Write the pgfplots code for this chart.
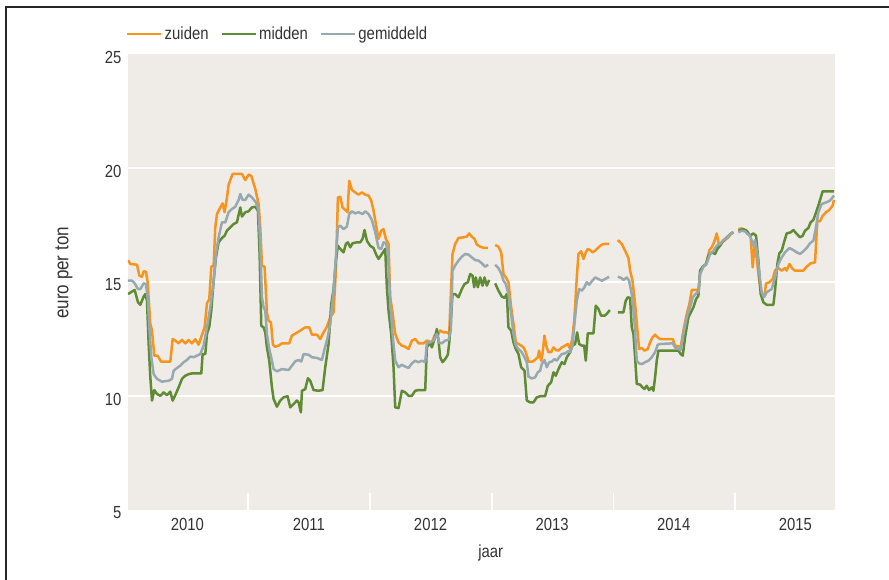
\documentclass[border=0pt]{standalone}
\usepackage{fontspec}
\setmainfont{Liberation Sans}[FakeStretch=0.85]
\usepackage{pgfplots}
\pgfplotsset{compat=1.18}
\definecolor{zuid}{HTML}{F7941E}
\definecolor{midd}{HTML}{5E8B34}
\definecolor{gemi}{HTML}{96A8B0}
\definecolor{bgc}{HTML}{EFECE8}
\definecolor{txt}{HTML}{333333}
\begin{document}
\begin{tikzpicture}[font=\fontsize{17.5pt}{20pt}\selectfont, text=txt]
\useasboundingbox (-128pt,-69pt) rectangle (761pt,510pt);
\begin{axis}[
  scale only axis, width=707pt, height=456pt,
  xmin=4, xmax=2126, ymin=5, ymax=25,
  axis line style={draw=none},
  axis background/.style={fill=bgc},
  /pgf/number format/assume math mode=true,
  xtick pos=lower, ytick pos=left,
  ytick={5,10,15,20,25},
  yticklabel style={text=txt, xshift=-3pt, yshift=-3pt},
  xtick={182,547,912,1277,1642,2007},
  xticklabels={2010,2011,2012,2013,2014,2015},
  xticklabel style={text=txt, yshift=-5pt},
  major tick length=0pt,
  extra y ticks={10,15,20}, extra y tick labels={},
  extra y tick style={ymajorgrids=true, major grid style={white, line width=2pt}, major tick length=0pt},
  extra x ticks={365,730,1096,1461,1826}, extra x tick labels={},
  extra x tick style={xtick align=inside, xtick pos=lower, major tick length=17pt, major tick style={white, line width=1.6pt}},
  xlabel={jaar}, ylabel={euro per ton},
  xlabel style={at={(axis description cs:0.513,-0.094)}, anchor=center, text=txt},
  ylabel style={at={(axis description cs:-0.0905,0.52)}, anchor=center, rotate=0, text=txt, font=\fontsize{20pt}{22pt}\selectfont},
  unbounded coords=jump,
  legend columns=3,
  legend style={at={(0,1)}, anchor=west, yshift=20pt, xshift=-2pt, draw=none, fill=none, inner sep=0pt,
    text=txt, /tikz/every even column/.append style={column sep=10pt}},
  legend image code/.code={\draw[#1, line width=2.6pt] (0pt,0pt) -- (31pt,0pt); \path (0pt,0pt) -- (34pt,0pt);},
  every axis plot/.append style={line width=2.5pt, line join=round},
]
\addplot[zuid] coordinates {
(4,15.96) (11,15.79) (31,15.76) (38,15.28) (46,15.23) (51,15.47) (58,15.45) (63,14.99) (71,13.16) (76,12.87) (83,11.77) (93,11.77) (103,11.51) (131,11.51) (138,12.50) (146,12.43) (156,12.31) (166,12.46) (176,12.31) (186,12.46) (196,12.31) (206,12.49) (216,12.25) (224,12.60) (234,13.01) (241,14.06) (248,14.25) (254,15.67) (261,15.72) (266,17.40) (271,17.98) (281,18.27) (288,18.45) (294,18.06) (301,18.71) (306,19.27) (318,19.74) (346,19.74) (356,19.47) (366,19.71) (374,19.66) (386,19.08) (396,18.42) (401,17.40) (406,15.72) (414,15.67) (421,13.67) (426,13.30) (433,13.23) (439,12.25) (446,12.16) (456,12.21) (466,12.31) (488,12.31) (496,12.65) (516,12.82) (536,13.01)
(548,13.01) (556,12.69) (571,12.69) (581,12.50) (591,12.79) (601,13.04) (611,13.45) (621,13.67) (628,15.50) (634,18.71) (641,18.74) (648,18.27) (656,18.16) (663,18.06) (668,19.44) (676,19.04) (686,18.93) (696,18.83) (706,18.93) (716,18.83) (726,18.79) (734,18.57) (741,18.13) (748,17.54) (756,16.89) (764,17.25) (771,17.32) (778,16.89) (786,16.67) (791,14.33) (798,13.67) (806,12.72) (816,12.35) (826,12.21) (836,12.16) (846,12.06) (856,12.43) (866,12.50) (876,12.31) (891,12.31) (901,12.43) (916,12.35) (924,12.65) (931,12.60) (941,12.87) (951,12.79) (961,12.79) (968,12.72) (973,14.47) (978,16.23) (986,16.67) (996,16.93) (1011,16.96) (1021,16.99) (1028,17.13) (1036,16.99) (1044,16.89) (1051,16.64) (1061,16.55) (1071,16.50) (1084,16.50)
(1095,nan)
(1106,16.62) (1116,16.55) (1124,16.30) (1131,15.35) (1138,15.20) (1146,14.99) (1154,13.89) (1161,13.16) (1168,12.35) (1176,12.28) (1184,12.21) (1191,12.13) (1198,11.92) (1206,11.51) (1218,11.51) (1226,11.59) (1234,11.70) (1238,11.99) (1244,11.55) (1248,11.84) (1254,12.65) (1259,12.21) (1266,11.92) (1274,11.92) (1281,12.13) (1288,12.02) (1296,11.99) (1306,12.13) (1316,12.21) (1324,12.28) (1331,12.06) (1338,12.57) (1344,13.45) (1351,15.20) (1356,16.23) (1364,16.35) (1371,16.01) (1378,16.30) (1384,16.45) (1391,16.40) (1398,16.30) (1406,16.37) (1416,16.52) (1426,16.64) (1436,16.67) (1448,16.67)
(1461,nan)
(1474,16.84) (1486,16.67) (1496,16.37) (1506,16.05) (1511,15.50) (1518,15.06) (1526,14.04) (1534,12.72) (1538,12.06) (1546,12.11) (1554,11.99) (1564,12.06) (1571,12.35) (1578,12.57) (1586,12.69) (1594,12.57) (1601,12.50)
(1639,12.50) (1646,12.21) (1663,12.16) (1671,12.87) (1681,13.60) (1689,14.04) (1696,14.65) (1711,14.65) (1716,14.55) (1721,15.35) (1729,15.67) (1739,15.76) (1749,16.40) (1756,16.52) (1763,16.74) (1771,17.13) (1778,16.59) (1786,16.74) (1796,16.84) (1806,16.96) (1813,17.11) (1819,17.18)
(1827,nan)
(1836,17.32) (1846,17.35) (1856,17.25) (1866,17.13) (1873,16.96) (1879,15.64) (1884,16.52) (1891,16.08) (1896,15.35) (1903,14.62) (1909,14.33) (1915,14.47) (1919,14.94) (1929,14.99) (1939,15.13) (1946,15.50) (1956,15.61) (1966,15.50) (1976,15.61) (1981,15.50) (1989,15.79) (1999,15.57) (2006,15.50) (2021,15.50) (2031,15.50) (2041,15.67) (2053,15.82) (2066,15.86) (2073,17.69) (2081,17.66) (2089,17.91) (2099,18.06) (2109,18.16) (2119,18.35) (2123,18.60)
};
\addlegendentry{zuiden}
\addplot[midd] coordinates {
(4,14.47) (16,14.58) (24,14.65) (34,14.11) (41,14.00) (51,14.36) (56,14.47) (61,14.18) (66,12.28) (71,10.82) (76,9.80) (83,10.26) (91,10.09) (101,10.01) (111,10.16) (121,10.04) (131,10.19) (138,9.80) (146,10.04) (156,10.38) (166,10.75) (176,10.89) (186,10.96) (196,10.99) (224,10.99) (228,11.84) (236,11.84) (241,12.72) (248,13.04) (254,13.74) (261,15.06) (268,16.08) (276,16.74) (286,16.93) (294,17.03) (301,17.25) (311,17.40) (321,17.54) (331,17.62) (341,18.27) (346,17.87) (356,18.06) (366,18.10) (376,18.27) (386,18.30) (394,18.13) (399,16.23) (404,13.08) (411,13.01) (416,12.79) (421,12.13) (428,11.55) (436,10.38) (441,9.87) (451,9.53) (461,9.80) (471,9.94) (483,9.99) (491,9.50) (501,9.65) (511,9.80) (516,9.72) (523,9.28) (526,10.23) (536,10.30)
(544,10.78) (551,10.67) (561,10.26) (576,10.23) (588,10.26) (596,11.26) (606,12.28) (614,14.04) (621,14.69) (628,15.94) (634,16.59) (641,16.45) (651,16.30) (658,16.67) (664,16.74) (671,16.52) (678,16.70) (691,16.74) (701,16.74) (708,16.89) (714,17.28) (721,16.81) (731,16.59) (741,16.49) (748,16.23) (756,16.01) (766,16.23) (776,16.45) (781,14.77) (786,13.74) (794,12.72) (801,11.26) (806,9.50) (816,9.47) (826,10.23) (836,10.16) (846,10.01) (856,10.01) (866,10.23) (876,10.26) (896,10.26) (901,12.13) (911,12.35) (916,12.13) (924,12.50) (931,12.94) (936,12.43) (941,11.70) (948,11.48) (956,11.62) (964,11.81) (968,12.31) (973,13.30) (978,14.47) (986,14.47) (996,14.33) (1006,14.69) (1014,14.91) (1024,14.99) (1031,15.35) (1038,15.28) (1043,14.77) (1048,15.20) (1054,14.77) (1061,15.20) (1068,14.84) (1074,15.20) (1081,14.84) (1088,15.09)
(1096,nan)
(1106,14.94) (1116,14.62) (1126,14.36) (1134,14.30) (1141,14.47) (1146,13.01) (1154,12.87) (1161,12.35) (1168,12.06) (1176,11.84) (1184,11.26) (1194,11.11) (1201,9.80) (1211,9.72) (1221,9.72) (1231,9.94) (1241,9.99) (1256,9.99) (1264,10.45) (1274,10.60) (1281,11.04) (1288,10.89) (1296,11.18) (1306,11.48) (1314,11.40) (1321,11.70) (1331,11.92) (1338,12.21) (1346,12.28) (1352,12.79) (1358,12.28) (1366,12.21) (1373,12.21) (1378,11.55) (1384,12.75) (1391,12.75) (1401,12.75) (1408,13.96) (1416,13.82) (1424,13.52) (1434,13.52) (1441,13.60) (1450,13.77)
(1461,nan)
(1474,13.67) (1491,13.67) (1498,14.18) (1504,14.33) (1511,14.30) (1516,13.01) (1521,12.72) (1526,11.70) (1531,10.53) (1541,10.50) (1548,10.38) (1554,10.31) (1561,10.45) (1568,10.26) (1576,10.38) (1581,10.23) (1586,10.82) (1591,11.55) (1596,11.99)
(1656,11.99) (1663,11.84) (1669,11.77) (1676,12.57) (1686,13.45) (1696,13.74) (1701,13.89) (1709,14.25) (1716,14.40) (1721,15.50) (1729,15.67) (1739,15.79) (1746,16.15) (1756,16.30) (1766,16.23) (1773,16.45) (1781,16.59) (1791,16.81) (1801,16.96) (1813,17.11) (1821,17.18)
(1827,nan)
(1836,17.25) (1851,17.32) (1861,17.25) (1871,17.03) (1881,17.13) (1889,17.03) (1896,15.94) (1903,14.47) (1911,14.11) (1921,14.00) (1941,14.00) (1946,14.62) (1953,15.79) (1959,16.26) (1966,16.37) (1973,16.74) (1981,17.13) (1993,17.18) (2001,17.28) (2011,17.11) (2021,16.96) (2029,17.03) (2036,17.25) (2046,17.37) (2053,17.62) (2061,17.72) (2071,18.13) (2079,18.49) (2089,18.98) (2123,18.98)
};
\addlegendentry{midden}
\addplot[gemi] coordinates {
(4,15.06) (16,15.06) (24,14.94) (34,14.69) (41,14.69) (51,14.94) (58,14.91) (64,14.18) (68,13.01) (74,11.70) (81,10.96) (91,10.75) (106,10.63) (126,10.67) (136,10.75) (141,11.11) (151,11.23) (161,11.33) (171,11.48) (181,11.58) (191,11.73) (201,11.70) (211,11.77) (221,11.84) (231,12.21) (241,13.01) (251,13.89) (261,14.99) (268,16.23) (276,16.96) (286,17.62) (296,17.62) (306,18.06) (316,18.20) (326,18.30) (336,18.60) (341,18.86) (348,18.60) (356,18.60) (366,18.83) (376,18.71) (388,18.49) (396,18.13) (401,16.67) (406,14.33) (411,13.89) (416,13.74) (421,12.72) (428,12.06) (436,11.55) (441,11.18) (451,11.08) (466,11.18) (486,11.14) (496,11.33) (506,11.52) (516,11.58) (524,11.51) (531,11.84) (546,11.81)
(556,11.70) (571,11.67) (586,11.58) (594,12.06) (601,12.43) (611,13.16) (621,14.62) (628,16.08) (634,17.40) (641,17.47) (651,17.32) (661,17.43) (668,17.98) (676,18.10) (686,18.01) (696,18.06) (708,17.98) (716,18.10) (726,17.98) (736,17.72) (746,17.18) (756,16.49) (764,16.45) (771,16.74) (778,16.70) (784,16.30) (791,14.18) (798,12.72) (806,11.55) (816,11.26) (826,11.37) (836,11.29) (846,11.23) (856,11.43) (866,11.55) (876,11.48) (886,11.55) (896,11.48) (901,12.35) (911,12.35) (921,12.43) (931,12.72) (938,12.35) (946,12.31) (956,12.43) (966,12.46) (973,12.87) (978,15.50) (986,15.72) (996,15.94) (1006,16.11) (1016,16.23) (1026,16.20) (1036,16.08) (1046,15.96) (1056,15.94) (1066,15.82) (1076,15.67) (1085,15.76)
(1096,nan)
(1106,15.76) (1116,15.61) (1124,15.38) (1131,15.06) (1138,14.91) (1146,14.47) (1154,13.60) (1161,12.72) (1168,12.21) (1176,12.06) (1186,11.92) (1194,11.70) (1201,11.48) (1206,10.85) (1216,10.77) (1226,10.82) (1234,11.04) (1241,11.11) (1246,11.40) (1254,11.58) (1261,11.26) (1268,11.48) (1276,11.51) (1284,11.62) (1291,11.55) (1298,11.70) (1306,11.84) (1316,11.87) (1324,11.96) (1331,11.92) (1338,12.21) (1344,13.16) (1351,14.18) (1358,14.69) (1366,14.62) (1374,14.77) (1381,14.99) (1388,14.88) (1396,15.03) (1406,15.20) (1416,15.13) (1426,15.06) (1436,15.13) (1448,15.23)
(1461,nan)
(1474,15.23) (1484,15.18) (1491,15.09) (1501,15.20) (1508,15.06) (1516,14.47) (1524,13.30) (1531,11.55) (1538,11.43) (1546,11.40) (1556,11.48) (1566,11.55) (1576,11.70) (1586,11.92) (1594,12.25) (1601,12.28)
(1639,12.31) (1646,12.13) (1663,12.02) (1671,12.72) (1681,13.45) (1691,13.89) (1699,14.33) (1709,14.50) (1716,14.55) (1721,15.35) (1731,15.67) (1741,15.82) (1751,16.23) (1761,16.37) (1771,16.59) (1781,16.67) (1791,16.84) (1801,16.93) (1811,17.08) (1821,17.18)
(1827,nan)
(1836,17.18) (1846,17.25) (1856,17.22) (1863,17.11) (1871,17.03) (1881,16.59) (1886,16.84) (1893,16.23) (1899,15.35) (1906,14.55) (1913,14.33) (1921,14.55) (1936,14.69) (1946,15.20) (1956,15.79) (1966,16.08) (1976,16.30) (1989,16.49) (2001,16.40) (2011,16.30) (2021,16.23) (2031,16.35) (2041,16.49) (2051,16.70) (2061,16.81) (2069,17.40) (2076,18.06) (2086,18.42) (2099,18.49) (2111,18.57) (2123,18.79)
};
\addlegendentry{gemiddeld}
\end{axis}
\draw[line width=1.3pt, black!85] (-122pt,-70pt) -- (-122pt,503pt) -- (762pt,503pt);
\end{tikzpicture}
\end{document}
